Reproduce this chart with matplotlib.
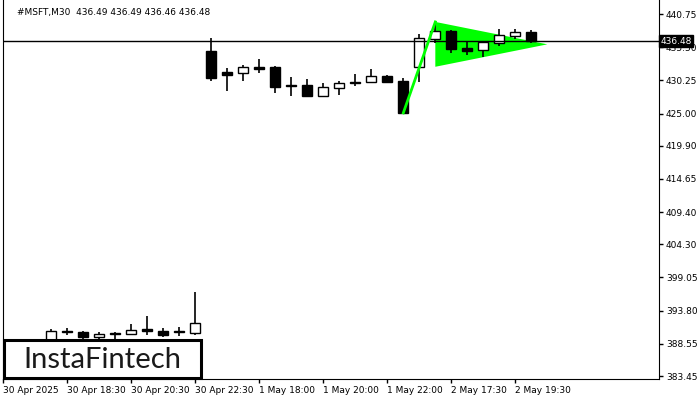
import matplotlib
matplotlib.use("Agg")
import matplotlib.pyplot as plt
from matplotlib.patches import Rectangle, Polygon

# 캔들 데이터 (M30, 인덱스 = 봉 번호)
idx = [3, 4, 5, 6, 7, 8, 9, 10, 11, 12,
       13, 14, 15, 16, 17, 18, 19, 20, 21, 22, 23, 24, 25,
       26, 27, 28, 29, 30, 31, 32, 33]
opens = [388.80, 390.50, 390.37, 389.58, 390.12, 390.10, 390.84, 390.62, 390.40, 390.21,
         434.89, 431.57, 431.36, 432.40, 432.36, 429.45, 429.47, 427.82, 429.08, 429.95, 430.04, 430.94, 430.19,
         432.30, 436.84, 438.01, 435.37, 435.00, 436.21, 437.32, 437.85]
highs = [390.90, 391.00, 390.62, 390.47, 390.47, 391.73, 392.95, 391.00, 391.20, 396.70,
         436.90, 432.25, 432.68, 433.58, 432.52, 430.83, 430.46, 429.83, 430.15, 431.30, 432.04, 431.10, 430.57,
         437.60, 439.40, 438.22, 436.32, 436.27, 438.38, 438.38, 438.17]
lows = [388.50, 389.94, 389.31, 388.90, 388.90, 390.10, 389.94, 389.58, 389.84, 389.94,
        430.19, 428.56, 430.19, 431.36, 428.29, 427.82, 427.82, 427.60, 427.98, 429.40, 430.04, 429.88, 425.00,
        430.04, 436.11, 434.62, 434.31, 433.94, 435.73, 436.84, 436.21]
closes = [390.62, 390.45, 389.58, 390.10, 390.08, 390.73, 390.52, 389.94, 390.35, 391.89,
          430.67, 431.14, 432.36, 432.10, 429.25, 429.35, 427.82, 429.15, 429.83, 429.80, 430.94, 429.99, 425.08,
          436.90, 438.01, 435.26, 434.94, 436.27, 437.38, 437.85, 436.48]

# 축 눈금
x_ticks = [0, 4, 8, 12, 16, 20, 24, 28, 32]
x_labels = ["30 Apr 2025", "30 Apr 18:30", "30 Apr 20:30", "30 Apr 22:30", "1 May 18:00",
            "1 May 20:00", "1 May 22:00", "2 May 17:30", "2 May 19:30"]
y_ticks = [440.75, 435.50, 430.25, 425.00, 419.90, 414.65, 409.40, 404.30, 399.05, 393.80, 388.55, 383.45]

# 페넌트 패턴 (깃대 + 삼각형)
pole_x = [25, 27]
pole_y = [425.10, 439.50]
flag_x = [27, 27, 34]
flag_y = [439.50, 432.40, 435.95]

last_price = 436.48
title = "#MSFT,M30  436.49 436.49 436.46 436.48"

fig = plt.figure(figsize=(7, 4), dpi=100)
ax = fig.add_axes([3 / 700, 21 / 400, 656 / 700, 379 / 400])
ax.set_xlim(-0.02, 40.98)
ax.set_ylim(382.98, 442.97)

# 깃발 삼각형
ax.add_patch(Polygon(list(zip(flag_x, flag_y)), closed=True, facecolor="#00ff00", edgecolor="none", zorder=1))

# 캔들 그리기
for i, o, h, l, c in zip(idx, opens, highs, lows, closes):
    ax.vlines(i, l, h, color="black", linewidth=1.2, zorder=2)
    bottom = min(o, c)
    height = max(abs(c - o), 0.2)
    face = "white" if c > o else "black"
    ax.bar(i, height, bottom=bottom, width=0.62, color=face, edgecolor="black", linewidth=1, zorder=2)

# 깃대
ax.plot(pole_x, pole_y, color="#00ff00", linewidth=2, zorder=3)

# 현재가 라인
ax.axhline(last_price, color="black", linewidth=1, zorder=2)

# 축 스타일
ax.spines["top"].set_visible(False)
ax.yaxis.tick_right()
ax.set_yticks(y_ticks)
ax.set_yticklabels([f"{v:.2f}" for v in y_ticks])
ax.set_xticks(x_ticks)
ax.set_xticklabels(x_labels, ha="left")
ax.tick_params(axis="both", labelsize=6.5, length=3, width=1, colors="black", pad=2)

# 현재가 라벨 (435.50 눈금 위에 겹쳐 그림)
ax.text(1.002, last_price, f"{last_price:.2f}", transform=ax.get_yaxis_transform(),
        ha="left", va="center", fontsize=6.5, color="white", zorder=5, clip_on=False,
        bbox=dict(boxstyle="square,pad=0.15", facecolor="black", edgecolor="black"))

# 제목
fig.text(17 / 700, 1 - 12 / 400, title, fontsize=6.5, ha="left", va="center")

# 로고 박스
fig.patches.append(Rectangle((4 / 700, 22 / 400), 197 / 700, 38 / 400, transform=fig.transFigure,
                             facecolor="white", edgecolor="black", linewidth=2.2, zorder=10))
fig.text(102 / 700, 40 / 400, "InstaFintech", fontsize=21, family="Lato", weight="normal",
         ha="center", va="center", color="#1a1a1a", zorder=11)

fig.savefig("out.png", dpi=100)
